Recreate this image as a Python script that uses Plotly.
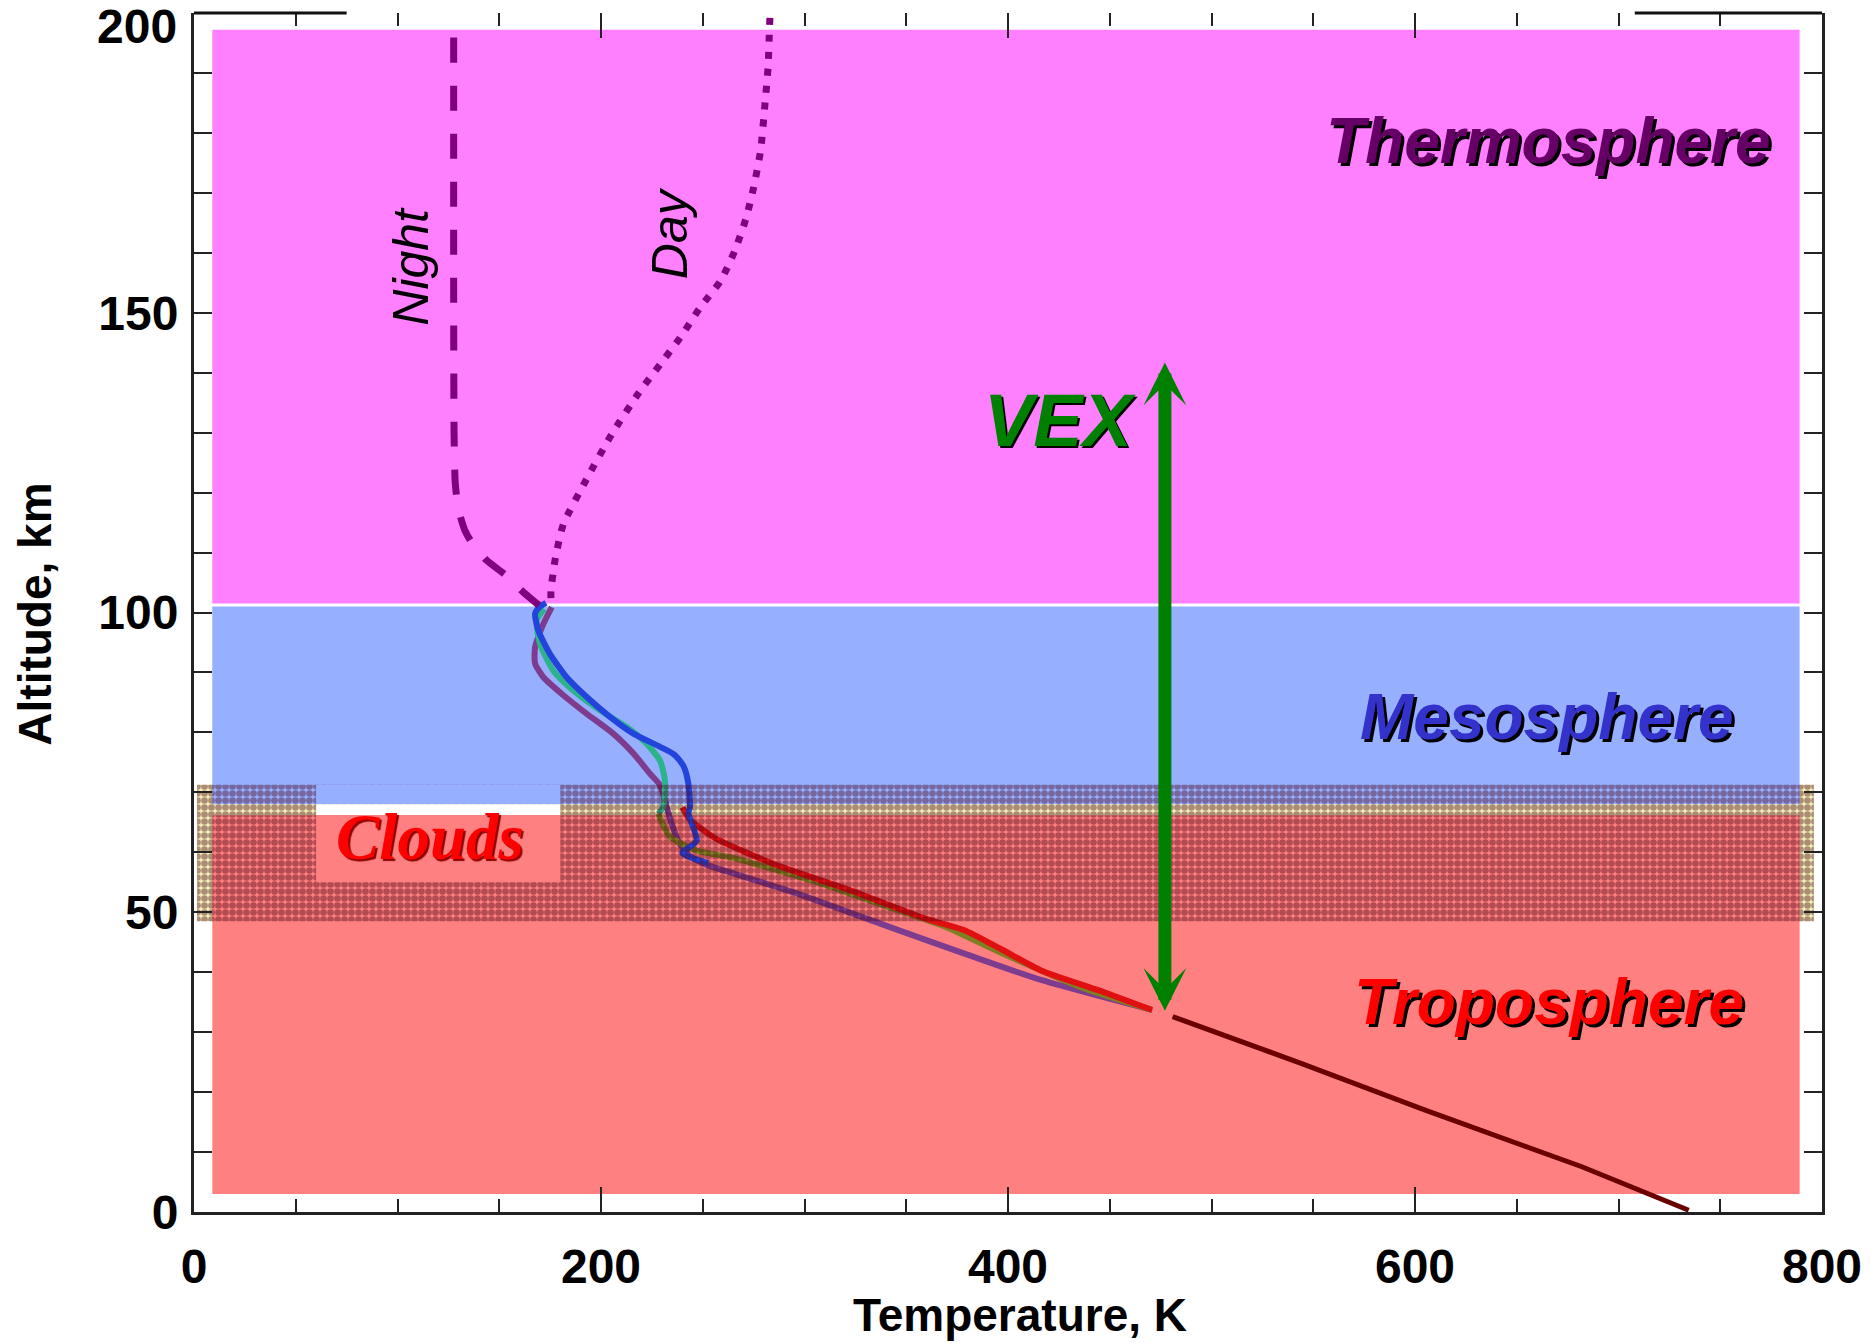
import plotly.graph_objects as go

# ---------------- data ----------------
# atmospheric layers: altitude limits (km) and temperature extent (K)
layer_names = ["Troposphere", "Mesosphere", "Thermosphere"]
layer_bottom = [3.0, 68.0, 101.5]
layer_top = [66.2, 101.0, 197.2]
layer_T = [9, 789]
layer_colors = ["#FF8080", "#97AFFF", "#FF80FF"]

clouds_bottom, clouds_top = 48.5, 71.25
clouds_T = [1.5, 796]
clouds_box_T = [60, 180]
clouds_box_bottom = 55.0

# Night (dashed) and Day (dotted) thermosphere profiles
night_T = [127.6, 127.6, 127.8, 128.3, 129.0, 130.5, 133.0, 136.4, 143.8, 153.3, 161.8, 169.5]
night_km = [195.9, 150.0, 130.0, 122.0, 119.5, 116.5, 113.8, 111.7, 108.7, 106.2, 103.4, 101.2]

day_T = [283.0, 282.7, 282.1, 280.7, 278.4, 275.0, 271.4, 265.7, 258.7, 248.8, 239.0,
         229.1, 218.7, 205.2, 193.0, 181.5, 177.6, 175.4, 175.5]
day_km = [199.2, 196.4, 190.9, 185.3, 177.0, 170.9, 165.9, 160.3, 155.3, 150.9, 145.9,
          141.4, 136.7, 129.7, 122.3, 114.7, 109.1, 103.6, 101.3]

# VEX profiles (mesosphere / clouds / upper troposphere)
purple_T = [175.8, 171.7, 167.6, 167.6, 171.7, 181.5, 193.0, 206.0, 215.9, 224.1, 229.0,
            231.5, 234.5, 238.5, 244.0, 252.0, 265.8, 294.0, 337.2, 378.6, 416.2, 470.8]
purple_km = [100.9, 98.1, 94.2, 91.5, 89.2, 86.2, 83.1, 79.8, 76.5, 73.1, 71.2,
             68.5, 65.0, 61.5, 59.3, 57.9, 56.4, 53.4, 48.1, 43.1, 38.7, 33.7]

teal_T = [172.0, 168.4, 170.0, 176.6, 186.4, 199.5, 212.6, 222.5, 229.0, 231.4, 230.6, 228.2]
teal_km = [100.6, 98.7, 94.8, 90.3, 87.0, 83.7, 80.9, 78.1, 75.3, 72.0, 67.6, 66.4]

olive_T = [228.2, 233.8, 246.9, 265.8, 303.4, 341.0, 369.2, 397.4, 435.0, 470.8]
olive_km = [66.4, 62.6, 60.3, 59.0, 55.3, 50.9, 47.6, 43.1, 37.6, 33.7]

red_T = [240.0, 243.5, 256.4, 284.6, 322.2, 359.8, 378.6, 397.4, 416.2, 444.4, 470.8]
red_km = [67.5, 65.5, 62.3, 58.1, 53.7, 48.9, 47.0, 43.7, 40.3, 37.0, 33.7]

blue_T = [173.0, 169.7, 167.6, 169.2, 174.9, 183.1, 193.0, 204.4, 215.9, 229.0, 236.0,
          240.5, 242.9, 243.7, 243.0, 247.0, 240.0, 252.6]
blue_km = [101.6, 100.9, 99.8, 97.0, 93.1, 89.2, 85.9, 82.6, 79.8, 77.6, 76.3,
           74.4, 71.5, 67.6, 66.5, 61.9, 59.9, 58.2]

# lower troposphere profile
trunk_T = [480.9, 544.0, 605.0, 645.0, 682.0, 734.5]
trunk_km = [32.6, 24.8, 17.0, 12.0, 7.55, 0.3]

# VEX coverage arrow
vex_T = 477.1
vex_range = [33.3, 141.7]

# label anchors (T, km)
label_pos = {
    "Thermosphere": (665.6, 178.7),
    "Mesosphere": (664.6, 82.6),
    "Troposphere": (665.6, 35.0),
    "VEX": (425.6, 132.0),
    "Clouds": (116.0, 62.6),
    "Night": (106.5, 157.8),
    "Day": (234.0, 163.3),
}

x_range = [0, 800]
y_range = [0, 200]
y_tickvals = [0, 50, 100, 150]
y_top_label = "200"

# ---------------- figure ----------------
fig = go.Figure()

shapes = []
# yellowish underlay of the cloud hatch
shapes.append(dict(type="rect", xref="x", yref="y", layer="below",
                   x0=clouds_T[0], x1=clouds_T[1], y0=clouds_bottom, y1=clouds_top,
                   fillcolor="#F2EEB8", line=dict(width=0)))
for b, t, c in zip(layer_bottom, layer_top, layer_colors):
    shapes.append(dict(type="rect", xref="x", yref="y", layer="below",
                       x0=layer_T[0], x1=layer_T[1], y0=b, y1=t,
                       fillcolor=c, line=dict(width=0)))

# clouds label window (above the hatch)
shapes.append(dict(type="rect", xref="x", yref="y", layer="above",
                   x0=clouds_box_T[0], x1=clouds_box_T[1], y0=layer_bottom[1], y1=clouds_top,
                   fillcolor=layer_colors[1], line=dict(width=0)))
shapes.append(dict(type="rect", xref="x", yref="y", layer="above",
                   x0=clouds_box_T[0], x1=clouds_box_T[1], y0=layer_top[0], y1=layer_bottom[1],
                   fillcolor="#FFFFFF", line=dict(width=0)))
shapes.append(dict(type="rect", xref="x", yref="y", layer="above",
                   x0=clouds_box_T[0], x1=clouds_box_T[1], y0=clouds_box_bottom, y1=layer_top[0],
                   fillcolor=layer_colors[0], line=dict(width=0)))

# partial top frame line
shapes.append(dict(type="line", xref="x", yref="paper", x0=0, x1=75, y0=1, y1=1,
                   line=dict(color="#111111", width=3), layer="above"))
shapes.append(dict(type="line", xref="x", yref="paper", x0=708, x1=800, y0=1, y1=1,
                   line=dict(color="#111111", width=3), layer="above"))

def prof(T, km, color, width=6, dash="solid", shape="spline"):
    line = dict(color=color, width=width, dash=dash, shape=shape)
    if shape == "spline":
        line["smoothing"] = 0.6
    fig.add_trace(go.Scatter(x=T, y=km, mode="lines", showlegend=False, hoverinfo="skip",
                             line=line))

prof(purple_T, purple_km, "#7E3C8E")
prof(teal_T, teal_km, "#2DB38C")
prof(olive_T, olive_km, "#7F7F20")
prof(red_T, red_km, "#E01010")
prof(blue_T, blue_km, "#2244DD")
prof(trunk_T, trunk_km, "#6A0000", width=5, shape="linear")
prof(night_T, night_km, "#800080", width=7, dash="25px,23px")
prof(day_T, day_km, "#800080", width=7, dash="7px,10px")

# cloud hatch overlay
fig.add_trace(go.Scatter(
    x=[clouds_T[0], clouds_T[1], clouds_T[1], clouds_T[0], clouds_T[0]],
    y=[clouds_bottom, clouds_bottom, clouds_top, clouds_top, clouds_bottom],
    mode="lines", fill="toself", fillcolor="rgba(0,0,0,0)",
    line=dict(width=0, color="rgba(0,0,0,0)"),
    fillpattern=dict(shape=".", size=7, solidity=0.7, fgcolor="rgba(70,0,20,0.82)"),
    showlegend=False, hoverinfo="skip"))

# invisible trace on the top axis (mirror ticks without frame line)
fig.add_trace(go.Scatter(x=x_range, y=y_range, xaxis="x2", mode="markers",
                         marker=dict(opacity=0), showlegend=False, hoverinfo="skip"))

ann = []
def big_label(name, color, size=64, family="Liberation Sans", shadow="3px 3px 0px #000000", weight="bold"):
    x, y = label_pos[name]
    ann.append(dict(x=x, y=y, xref="x", yref="y", text=name, showarrow=False,
                    font=dict(family=family, size=size, color=color, weight=weight,
                              style="italic", shadow=shadow)))

big_label("Thermosphere", "#660066")
big_label("Mesosphere", "#3333CC")
big_label("Troposphere", "#FF0000")
big_label("VEX", "#008000", size=74, shadow="2px 2px 0px #000000")
big_label("Clouds", "#FF0000", size=65, family="Liberation Serif",
          shadow="2px 2px 1px #8B0000")

for name in ["Night", "Day"]:
    x, y = label_pos[name]
    ann.append(dict(x=x, y=y, xref="x", yref="y", text=name, showarrow=False, textangle=-90,
                    font=dict(family="Liberation Sans", size=50, color="#000000",
                              style="italic")))

# VEX double arrow
ann.append(dict(x=vex_T, y=vex_range[1], ax=vex_T, ay=vex_range[0], xref="x", yref="y",
                axref="x", ayref="y", text="", showarrow=True, arrowside="end+start",
                arrowhead=3, startarrowhead=3, arrowsize=0.55, startarrowsize=0.55,
                arrowwidth=13, arrowcolor="#008000", standoff=0, startstandoff=0))

tick_font = dict(family="Liberation Sans", size=48, color="#000000", weight="bold")

# top y tick label (sits a little below the frame in the reference)
ann.append(dict(x=-0.009, y=0.989, xref="paper", yref="paper", text=y_top_label,
                showarrow=False, xanchor="right", yanchor="middle", font=tick_font))

# axis titles
title_font = dict(family="Liberation Sans", size=46, color="#000000", weight="bold")
ann.append(dict(x=0.5074, y=-0.086, xref="paper", yref="paper", text="Temperature, K",
                showarrow=False, xanchor="center", yanchor="middle", font=title_font))
ann.append(dict(x=-0.0977, y=0.499, xref="paper", yref="paper", text="Altitude, km",
                showarrow=False, xanchor="center", yanchor="middle", textangle=-90,
                font=title_font))

fig.update_layout(
    width=1871, height=1343,
    margin=dict(l=194, r=49, t=13, b=131, autoexpand=False),
    paper_bgcolor="#FFFFFF", plot_bgcolor="#FFFFFF",
    shapes=shapes, annotations=ann, showlegend=False,
    xaxis=dict(range=x_range, showgrid=False, zeroline=False, automargin=False,
               showline=True, linecolor="#222222", linewidth=3, mirror=False,
               ticks="inside", ticklen=25, tickwidth=2, tickcolor="#222222",
               tick0=0, dtick=200, tickfont=tick_font, ticklabelstandoff=10,
               minor=dict(ticks="inside", ticklen=13, tickwidth=2, dtick=50, tick0=0,
                          tickcolor="#222222", showgrid=False)),
    xaxis2=dict(range=x_range, overlaying="x", side="top", showgrid=False, zeroline=False,
                showline=False, showticklabels=False, automargin=False,
                ticks="inside", ticklen=25, tickwidth=2, tickcolor="#222222",
                tick0=0, dtick=200,
                minor=dict(ticks="inside", ticklen=13, tickwidth=2, dtick=50, tick0=0,
                           tickcolor="#222222", showgrid=False)),
    yaxis=dict(range=y_range, showgrid=False, zeroline=False, automargin=False,
               showline=True, linecolor="#222222", linewidth=3, mirror="ticks",
               ticks="inside", ticklen=18, tickwidth=2, tickcolor="#222222",
               tickmode="array", tickvals=y_tickvals, tickfont=tick_font,
               ticklabelstandoff=3,
               minor=dict(ticks="inside", ticklen=18, tickwidth=2, dtick=10, tick0=0,
                          tickcolor="#222222", showgrid=False)),
)

fig.write_html("out.html")
